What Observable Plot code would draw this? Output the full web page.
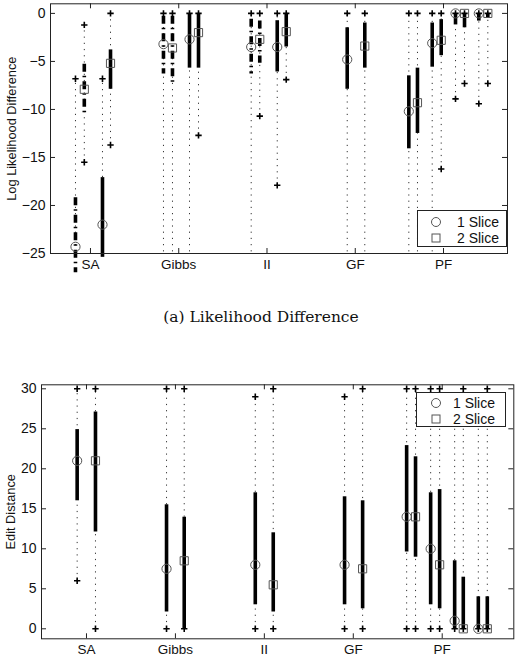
<!DOCTYPE html>
<html><head><meta charset="utf-8">
<script src="https://cdn.jsdelivr.net/npm/d3@7"></script>
<script src="https://cdn.jsdelivr.net/npm/@observablehq/plot@0.6"></script>
<style>
body{margin:0;background:#fff;width:516px;height:661px;position:relative;overflow:hidden;font-family:"Liberation Sans",Arial,sans-serif}
#top{position:absolute;left:0;top:0}
#bot{position:absolute;left:0;top:380px}
#cap{position:absolute;left:0;width:516px;top:308px;text-align:center;font-family:"DejaVu Serif",serif;font-size:15.5px;padding-left:6px;box-sizing:border-box;color:#111}
.legend{position:absolute;background:#fff;border:1px solid #222;box-sizing:border-box;font-size:14px;color:#111}
.legend svg{position:absolute}
.legend span{position:absolute;line-height:16px}
</style>
</head><body>
<div id="top"></div>
<div id="cap">(a) Likelihood Difference</div>
<div id="bot"></div>
<div class="legend" style="left:417px;top:210px;width:90px;height:37px">
  <svg width="14" height="14" style="left:11px;top:4px"><circle cx="7" cy="7" r="4.5" fill="none" stroke="#555"/></svg>
  <span style="left:39px;top:3px">1 Slice</span>
  <svg width="14" height="14" style="left:11px;top:20px"><rect x="3" y="3" width="8" height="8" fill="none" stroke="#555"/></svg>
  <span style="left:39px;top:19px">2 Slice</span>
</div>
<div class="legend" style="left:416px;top:392px;width:90px;height:35px">
  <svg width="14" height="14" style="left:12px;top:3px"><circle cx="7" cy="7" r="4.5" fill="none" stroke="#555"/></svg>
  <span style="left:36px;top:2px">1 Slice</span>
  <svg width="14" height="14" style="left:12px;top:19px"><rect x="3" y="3" width="8" height="8" fill="none" stroke="#555"/></svg>
  <span style="left:36px;top:18px">2 Slice</span>
</div>
<script>
// ---------- data ----------
const groups = ["SA", "Gibbs", "II", "GF", "PF"];
const topYTicks = [0, -5, -10, -15, -20, -25];
const botYTicks = [0, 5, 10, 15, 20, 25, 30];

// (a) Log likelihood difference
const topGroup  = [1,1,1,1, 2,2,2,2, 3,3,3,3, 4,4, 5,5,5,5,5,5,5,5];
const topOffset = [-0.17,-0.07,0.136,0.227, -0.173,-0.071,0.122,0.224, -0.179,-0.082,0.116,0.218, -0.091,0.108, -0.393,-0.295,-0.128,-0.026,0.136,0.238,0.40,0.502];
const topSlice  = [1,2,1,2, 1,2,1,2, 1,2,1,2, 1,2, 1,2,1,2,1,2,1,2];
const topStyle  = ["dashdot","dashdot","solid","solid","dashdot","dashdot","solid","solid","dashdot","dashdot","solid","solid","solid","solid","solid","solid","solid","solid","solid","solid","solid","solid"];
const topMin = [-30,-15.5,-30,-13.7, -30,-30,-30,-12.7, -30,-10.7,-17.9,-6.9, -30,-30, -30,-30,-30,-16.2,-8.9,-7.3,-9.4,-7.3];
const topQ1  = [-27,-10.7,-25.4,-7.9, -6.3,-7.4,-5.7,-5.7, -6.3,-5.2,-6.1,-3.5, -7.9,-5.7, -14.1,-12.5,-5.6,-4.4,-1.2,-1.5,-0.8,-0.5];
const topMed = [-24.3,-7.9,-22.0,-5.2, -3.2,-3.6,-2.7,-2.0, -3.5,-2.7,-3.5,-1.9, -4.8,-3.4, -10.2,-9.3,-3.1,-2.8,0,0,0,0];
const topQ3  = [-19.2,-5.3,-17.1,-3.8, -0.3,-0.3,-0.1,0, -0.6,-0.8,-0.76,0, -1.5,-1.0, -6.5,-5.7,-1.0,-0.65,0,0,0,0];
const topMax = [-6.8,-1.2,-6.8,0, 0,0,0,0, 0,0,0,0, 0,0, 0,0,0,0,0,0,0,0];

// (b) Edit distance
const botGroup  = [1,1, 2,2, 3,3, 4,4, 5,5,5,5,5,5,5,5];
const botOffset = [-0.105,0.101, -0.10,0.099, -0.102,0.10, -0.098,0.105, -0.40,-0.30,-0.13,-0.029,0.14,0.237,0.406,0.507];
const botSlice  = [1,2, 1,2, 1,2, 1,2, 1,2,1,2,1,2,1,2];
const botStyle  = Array(16).fill("solid");
const botMin = [6,0, 0,0, 0,0, 0,0, 0,0,0,0,0,0,0,0];
const botQ1  = [16,12.1, 2.1,0, 3.0,2.1, 3.0,2.5, 9.6,8.95,3.0,2.5,0,0,0,0];
const botMed = [21,21, 7.5,8.5, 8.0,5.5, 8.0,7.5, 14,14,10,8,1,0,0,0];
const botQ3  = [24.9,27.1, 15.5,13.95, 17,12, 16.5,16, 22.9,21.5,17,17.4,8.5,6.45,4,4];
const botMax = [30,30, 30,30, 29,30, 29,30, 30,30,30,30,27,30,27,30];

function rows(g, o, s, st, mn, q1, md, q3, mx) {
  return g.map((gi, i) => ({x: gi + o[i], slice: s[i], style: st[i], min: mn[i], q1: q1[i], med: md[i], q3: q3[i], max: mx[i]}));
}

const FONT = "Liberation Sans, Arial, sans-serif";

function panel({data, width, height, margin, xDomain, yDomain, yTicks, yLabel, labelOffset}) {
  const [mt, mr, mb, ml] = margin;
  const pw = width - ml - mr, ph = height - mt - mb;
  const plusPts = data.flatMap(d => [{x: d.x, y: d.max}, {x: d.x, y: d.min}]);
  const tickStroke = "#222";
  return Plot.plot({
    width, height, marginTop: mt, marginRight: mr, marginBottom: mb, marginLeft: ml,
    style: {fontFamily: FONT, color: "#111", background: "transparent", overflow: "visible"},
    x: {domain: xDomain},
    y: {domain: yDomain},
    marks: [
      Plot.ruleX(data, {x: "x", y1: "min", y2: "max", stroke: "#333", strokeWidth: 1, strokeDasharray: "1.2,5", clip: true}),
      Plot.ruleX(data.filter(d => d.style === "solid"), {x: "x", y1: "q1", y2: "q3", stroke: "black", strokeWidth: 3.6}),
      Plot.ruleX(data.filter(d => d.style === "dashdot"), {x: "x", y1: "q3", y2: "q1", stroke: "black", strokeWidth: 3.6, strokeDasharray: "8,4,1.5,4"}),
      Plot.dot(plusPts, {x: "x", y: "y", symbol: "plus", r: 2.2, stroke: "black", strokeWidth: 1.6, clip: true}),
      Plot.dot(data.filter(d => d.slice === 1), {x: "x", y: "med", symbol: "circle", r: 4.6, stroke: "#555", fill: "none", strokeWidth: 1}),
      Plot.dot(data.filter(d => d.slice === 2), {x: "x", y: "med", symbol: "square", r: 4.6, stroke: "#555", fill: "none", strokeWidth: 1}),
      Plot.frame({stroke: "#222", strokeWidth: 1}),
      Plot.tickY(yTicks, {y: d => d, insetRight: pw - 5, stroke: tickStroke}),
      Plot.tickY(yTicks, {y: d => d, insetLeft: pw - 5, stroke: tickStroke}),
      Plot.tickX([1, 2, 3, 4, 5], {x: d => d, insetTop: ph - 5, stroke: tickStroke}),
      Plot.tickX([1, 2, 3, 4, 5], {x: d => d, insetBottom: ph - 5, stroke: tickStroke}),
      Plot.axisY({ticks: yTicks, tickSize: 0, tickPadding: 5, label: null, fontFamily: FONT, fontSize: 14}),
      Plot.axisY({ticks: [], tickSize: 0, label: yLabel, labelAnchor: "center", labelArrow: "none", labelOffset, fontFamily: FONT, fontSize: 12.8}),
      Plot.axisX({ticks: [1, 2, 3, 4, 5], tickFormat: i => groups[i - 1], tickSize: 0, tickPadding: 6, label: null, fontFamily: FONT, fontSize: 13.5})
    ]
  });
}

const topData = rows(topGroup, topOffset, topSlice, topStyle, topMin, topQ1, topMed, topQ3, topMax);
const botData = rows(botGroup, botOffset, botSlice, botStyle, botMin, botQ1, botMed, botQ3, botMax);

document.getElementById("top").append(panel({
  data: topData, width: 516, height: 285, margin: [3.3, 9, 32, 50],
  xDomain: [0.547, 5.725], yDomain: [-25, 1], yTicks: topYTicks,
  yLabel: "Log Likelihood Difference", labelOffset: 44
}));
document.getElementById("bot").append(panel({
  data: botData, width: 516, height: 281, margin: [4.3, 2.7, 22.7, 41],
  xDomain: [0.494, 5.805], yDomain: [-1.25, 30.5], yTicks: botYTicks,
  yLabel: "Edit Distance", labelOffset: 36
}));
</script>
</body></html>
